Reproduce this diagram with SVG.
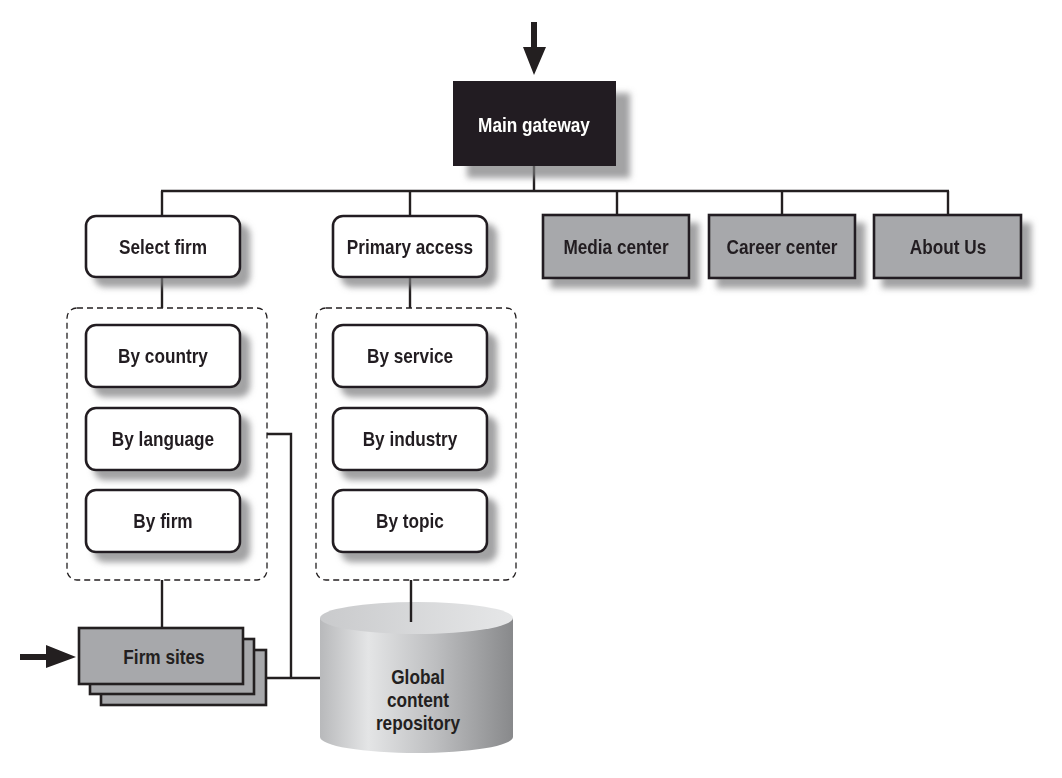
<svg xmlns="http://www.w3.org/2000/svg" width="1062" height="778" viewBox="0 0 1062 778">
<style>
.lbl{font-family:"Liberation Sans",Arial,sans-serif;font-weight:bold;font-size:21px;fill:#231f20;text-anchor:middle;dominant-baseline:central}
.w{fill:#fff;stroke:#231f20;stroke-width:2.6}
.g{fill:#a7a8ab;stroke:#231f20;stroke-width:2.6}
.ln{fill:none;stroke:#231f20;stroke-width:2.4}
.dash{fill:none;stroke:#231f20;stroke-width:1.3;stroke-dasharray:6 4}
</style>
<defs>
<filter id="sh" x="-20%" y="-20%" width="150%" height="160%">
<feGaussianBlur in="SourceAlpha" stdDeviation="3"/>
<feOffset dx="9" dy="9" result="b"/>
<feFlood flood-color="#7a7a7c" flood-opacity="0.7"/>
<feComposite in2="b" operator="in" result="s"/>
<feMerge><feMergeNode in="s"/><feMergeNode in="SourceGraphic"/></feMerge>
</filter>
<filter id="shb" x="-20%" y="-20%" width="150%" height="160%">
<feGaussianBlur in="SourceAlpha" stdDeviation="3"/>
<feOffset dx="14" dy="12" result="b"/>
<feFlood flood-color="#7a7a7c" flood-opacity="0.7"/>
<feComposite in2="b" operator="in" result="s"/>
<feMerge><feMergeNode in="s"/><feMergeNode in="SourceGraphic"/></feMerge>
</filter>
<linearGradient id="cyl" x1="0" y1="0" x2="1" y2="0">
<stop offset="0" stop-color="#b8b9bb"/>
<stop offset="0.25" stop-color="#e4e5e6"/>
<stop offset="0.6" stop-color="#bdbec0"/>
<stop offset="1" stop-color="#88898b"/>
</linearGradient>
<linearGradient id="cyltop" x1="0" y1="0" x2="1" y2="0">
<stop offset="0" stop-color="#c9cacc"/>
<stop offset="1" stop-color="#e6e7e8"/>
</linearGradient>
</defs>

<g id="connectors">
<line class="ln" x1="534" y1="166" x2="534" y2="191"/>
<line class="ln" x1="161" y1="191" x2="949" y2="191"/>
<line class="ln" x1="162" y1="191" x2="162" y2="216"/>
<line class="ln" x1="410" y1="191" x2="410" y2="216"/>
<line class="ln" x1="617" y1="191" x2="617" y2="215"/>
<line class="ln" x1="782" y1="191" x2="782" y2="215"/>
<line class="ln" x1="948" y1="191" x2="948" y2="215"/>
<line class="ln" x1="162" y1="277" x2="162" y2="308"/>
<line class="ln" x1="410" y1="277" x2="410" y2="308"/>
<line class="ln" x1="162" y1="580" x2="162" y2="628"/>
<line class="ln" x1="411" y1="580" x2="411" y2="622"/>
<polyline class="ln" points="267,434 291,434 291,678"/>
<line class="ln" x1="266" y1="678" x2="322" y2="678"/>
<path d="M531,22 H537 V47 H546 L534,75 L523,47 H531 Z" fill="#231f20"/>
<path d="M20,654 H46 V645 L76,657 L46,668 V660 H20 Z" fill="#231f20"/>
</g>

<g id="main-gateway" filter="url(#shb)">
<rect x="453" y="81" width="163" height="85" fill="#231f20"/>
<text class="lbl" transform="translate(534 125) scale(0.82 1)" style="fill:#fff">Main gateway</text>
</g>

<g id="select-firm" filter="url(#sh)">
<rect class="w" x="86" y="216" width="154" height="61" rx="10"/>
<text class="lbl" transform="translate(163 247) scale(0.82 1)">Select firm</text>
</g>
<g id="primary-access" filter="url(#sh)">
<rect class="w" x="333" y="216" width="154" height="61" rx="10"/>
<text class="lbl" transform="translate(410 247) scale(0.82 1)">Primary access</text>
</g>
<g id="media-center" filter="url(#sh)">
<rect class="g" x="543" y="215" width="146" height="63"/>
<text class="lbl" transform="translate(616 247) scale(0.82 1)">Media center</text>
</g>
<g id="career-center" filter="url(#sh)">
<rect class="g" x="709" y="215" width="146" height="63"/>
<text class="lbl" transform="translate(782 247) scale(0.82 1)">Career center</text>
</g>
<g id="about-us" filter="url(#sh)">
<rect class="g" x="874" y="215" width="147" height="63"/>
<text class="lbl" transform="translate(948 247) scale(0.82 1)">About Us</text>
</g>

<g id="firm-group">
<rect class="dash" x="67" y="308" width="200" height="272" rx="10"/>
</g>
<g id="access-group">
<rect class="dash" x="316" y="308" width="200" height="272" rx="10"/>
</g>

<g id="by-country" filter="url(#sh)">
<rect class="w" x="86" y="325" width="154" height="62" rx="10"/>
<text class="lbl" transform="translate(163 356) scale(0.82 1)">By country</text>
</g>
<g id="by-language" filter="url(#sh)">
<rect class="w" x="86" y="408" width="154" height="62" rx="10"/>
<text class="lbl" transform="translate(163 439) scale(0.82 1)">By language</text>
</g>
<g id="by-firm" filter="url(#sh)">
<rect class="w" x="86" y="490" width="154" height="62" rx="10"/>
<text class="lbl" transform="translate(163 521) scale(0.82 1)">By firm</text>
</g>
<g id="by-service" filter="url(#sh)">
<rect class="w" x="333" y="325" width="154" height="62" rx="10"/>
<text class="lbl" transform="translate(410 356) scale(0.82 1)">By service</text>
</g>
<g id="by-industry" filter="url(#sh)">
<rect class="w" x="333" y="408" width="154" height="62" rx="10"/>
<text class="lbl" transform="translate(410 439) scale(0.82 1)">By industry</text>
</g>
<g id="by-topic" filter="url(#sh)">
<rect class="w" x="333" y="490" width="154" height="62" rx="10"/>
<text class="lbl" transform="translate(410 521) scale(0.82 1)">By topic</text>
</g>

<g id="firm-sites">
<rect class="g" x="101" y="650" width="165" height="55"/>
<rect class="g" x="90" y="639" width="164" height="55"/>
<rect class="g" x="79" y="628" width="164" height="56"/>
<text class="lbl" transform="translate(164 657) scale(0.82 1)">Firm sites</text>
</g>

<g id="global-content-repository">
<path d="M320,618 V737 A96.5,16 0 0 0 513,737 V618 Z" fill="url(#cyl)"/>
<ellipse cx="416.5" cy="618" rx="96.5" ry="16" fill="url(#cyltop)"/>
<line class="ln" x1="411" y1="602" x2="411" y2="622"/>
<text class="lbl" transform="translate(418 677) scale(0.82 1)">Global</text>
<text class="lbl" transform="translate(418 700) scale(0.82 1)">content</text>
<text class="lbl" transform="translate(418 723) scale(0.82 1)">repository</text>
</g>
</svg>
